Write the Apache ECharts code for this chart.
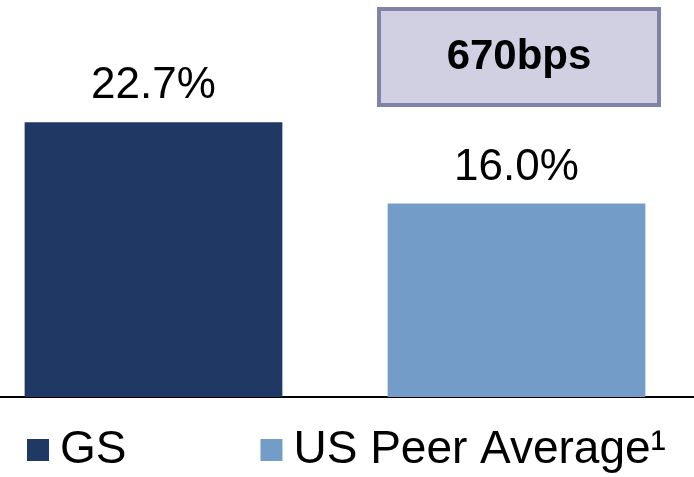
<!DOCTYPE html>
<html>
<head>
<meta charset="utf-8">
<script src="https://cdn.jsdelivr.net/npm/echarts@6/dist/echarts.min.js"></script>
<style>
  html, body { margin: 0; padding: 0; background: #fff; }
  #chart { width: 694px; height: 477px; }
</style>
</head>
<body>
<div id="chart"></div>
<script>
// data
var categories = ['GS', 'US Peer Average¹']
var values = [22.7, 16.0]
var barColors = ['#1F3864', '#739CC8']

// spread between the two, in basis points
var spreadBps = Math.round((values[0] - values[1]) * 100)

var chart = echarts.init(document.getElementById('chart'))

var series = categories.map(function (name, i) {
  var data = categories.map(function (c, j) { return j === i ? values[i] : '-' })
  return {
    name: name,
    type: 'bar',
    stack: 'all',
    barCategoryGap: '29%',
    itemStyle: { color: barColors[i] },
    label: {
      show: true,
      position: 'top',
      distance: 14,
      color: '#000',
      fontSize: 44,
      fontFamily: 'Liberation Sans',
      formatter: function (p) { return p.value.toFixed(1) + '%' }
    },
    data: data
  }
})

chart.setOption({
  animation: false,
  color: barColors,
  grid: {
    left: -28,
    right: -4,
    top: 34,
    bottom: 80,
    outerBoundsMode: 'none',
    containLabel: false
  },
  xAxis: {
    type: 'category',
    data: categories,
    axisLine: { lineStyle: { color: '#000', width: 2 } },
    axisTick: { show: false },
    axisLabel: { show: false }
  },
  yAxis: {
    type: 'value',
    min: 0,
    max: 30,
    show: false,
    splitLine: { show: false }
  },
  legend: {
    left: 27,
    top: 427,
    padding: 0,
    icon: 'rect',
    itemWidth: 22,
    itemHeight: 22,
    itemGap: 134,
    selectedMode: false,
    textStyle: {
      color: '#000',
      fontSize: 46,
      lineHeight: 46,
      fontFamily: 'Liberation Sans',
      padding: [0, 0, 0, 6]
    },
    data: categories
  },
  graphic: [{
    type: 'group',
    children: [{
      type: 'rect',
      shape: { x: 379, y: 9, width: 280, height: 96 },
      style: { fill: '#D0D0E2', stroke: '#8282A8', lineWidth: 4 }
    }, {
      type: 'text',
      x: 519,
      y: 57,
      style: {
        text: spreadBps + 'bps',
        fill: '#000',
        font: 'bold 42px "Liberation Sans"',
        align: 'center',
        verticalAlign: 'middle'
      }
    }]
  }],
  series: series
})
</script>
</body>
</html>
